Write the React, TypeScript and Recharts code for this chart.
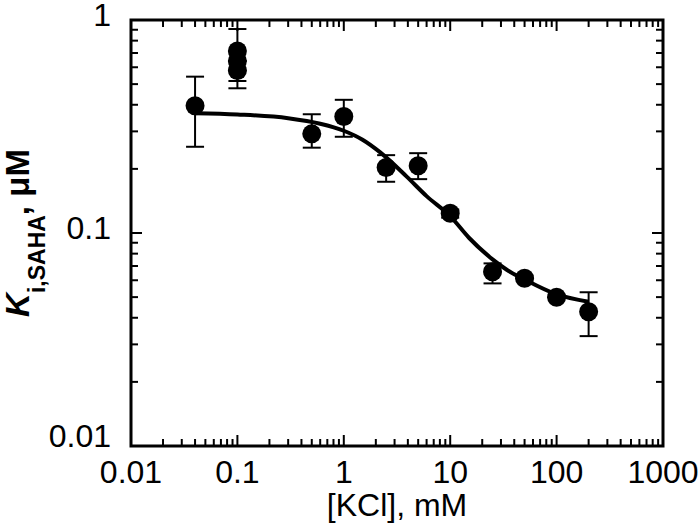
import { ComposedChart, Scatter, Line, XAxis, YAxis, ErrorBar, ReferenceArea } from 'recharts';

// measured KCl concentrations (mM) and Ki,SAHA (uM)
const kclConc = [0.04, 0.1, 0.1, 0.1, 0.5, 1, 2.5, 5, 10, 25, 50, 100, 200];
const kiSaha = [0.396, 0.715, 0.642, 0.579, 0.292, 0.352, 0.203, 0.207, 0.1237, 0.0658, 0.0613, 0.0499, 0.0427];
const kiLow = [0.254, 0.517, 0.642, 0.478, 0.2515, 0.283, 0.174, 0.179, 0.118, 0.058, 0.0613, 0.0499, 0.0328];
const kiHigh = [0.542, 0.907, 0.642, 0.579, 0.361, 0.422, 0.232, 0.237, 0.129, 0.072, 0.0613, 0.0499, 0.0527];

// fitted curve
const fitConc = [0.04, 0.1, 0.3, 0.6, 1, 1.5, 2.2, 3.9, 6, 10, 15, 25, 34, 50, 100, 200];
const fitKi = [0.365, 0.36, 0.346, 0.326, 0.302, 0.274, 0.239, 0.184, 0.149, 0.12, 0.095, 0.0752, 0.0672, 0.0605, 0.0515, 0.0476];

const xTicks = [
  0.01, 0.02, 0.03, 0.04, 0.05, 0.06, 0.07, 0.08, 0.09,
  0.1, 0.2, 0.3, 0.4, 0.5, 0.6, 0.7, 0.8, 0.9,
  1, 2, 3, 4, 5, 6, 7, 8, 9,
  10, 20, 30, 40, 50, 60, 70, 80, 90,
  100, 200, 300, 400, 500, 600, 700, 800, 900,
  1000,
];
const yTicks = [
  0.01, 0.02, 0.03, 0.04, 0.05, 0.06, 0.07, 0.08, 0.09,
  0.1, 0.2, 0.3, 0.4, 0.5, 0.6, 0.7, 0.8, 0.9,
  1,
];

const points = kclConc.map((x, i) => ({
  x,
  y: kiSaha[i],
  err: [kiSaha[i] - kiLow[i], kiHigh[i] - kiSaha[i]],
}));
const fit = fitConc.map((x, i) => ({ x, y: fitKi[i] }));

const W = 700;
const H = 524;
const TOP = 20;
const BOTTOM = 446;
const LEFT = 131;
const RIGHT = 663;
const FONT = 'Liberation Sans, Arial, Helvetica, sans-serif';

const isDecade = (v: number) => Math.abs(Math.log10(v) - Math.round(Math.log10(v))) < 1e-9;

function XTick(props: any) {
  const { x, payload } = props;
  const v = payload.value;
  const major = isDecade(v);
  const len = major ? 11 : 7;
  return (
    <g>
      <line x1={x} x2={x} y1={BOTTOM} y2={BOTTOM - len} stroke="#000" strokeWidth={2} />
      <line x1={x} x2={x} y1={TOP} y2={TOP + len} stroke="#000" strokeWidth={2} />
      {major && (
        <text x={x} y={483} textAnchor="middle" fontSize={32} fontFamily={FONT} fill="#000">
          {String(v)}
        </text>
      )}
    </g>
  );
}

function YTick(props: any) {
  const { y, payload } = props;
  const v = payload.value;
  const major = isDecade(v);
  const len = major ? 11 : 7;
  return (
    <g>
      <line x1={LEFT} x2={LEFT + len} y1={y} y2={y} stroke="#000" strokeWidth={2} />
      <line x1={RIGHT} x2={RIGHT - len} y1={y} y2={y} stroke="#000" strokeWidth={2} />
      {major && (
        <text x={111} y={v === 0.01 ? y + 1 : y + 6} textAnchor="end" fontSize={32} fontFamily={FONT} fill="#000">
          {String(v)}
        </text>
      )}
    </g>
  );
}

const Dot = (props: any) => <circle cx={props.cx} cy={props.cy} r={9.5} fill="#000" />;

const yLabel = () => (
  <text
    transform={`translate(29, ${(TOP + BOTTOM) / 2}) rotate(-90)`}
    textAnchor="middle"
    fontFamily={FONT}
    fontWeight="bold"
    fontSize={33}
    fill="#000"
  >
    <tspan fontStyle="italic">K</tspan>
    <tspan fontSize={23} dy={16}>i,SAHA</tspan>
    <tspan dy={-16}>, μM</tspan>
  </text>
);

const xLabel = () => (
  <text x={(LEFT + RIGHT) / 2} y={516} textAnchor="middle" fontFamily={FONT} fontSize={32} fill="#000">
    [KCl], mM
  </text>
);

export default function App() {
  return (
    <div style={{ position: 'absolute', left: 0, top: 0, background: '#fff' }}>
      <ComposedChart width={W} height={H} margin={{ top: TOP, right: W - RIGHT, bottom: 0, left: 0 }}>
        <XAxis
          dataKey="x"
          type="number"
          scale="log"
          domain={[0.01, 1000]}
          ticks={xTicks}
          interval={0}
          allowDataOverflow
          height={H - BOTTOM}
          axisLine={false}
          tickLine={false}
          tickSize={0}
          tickMargin={0}
          tick={(p: any) => <XTick {...p} />}
          label={xLabel}
        />
        <YAxis
          type="number"
          scale="log"
          domain={[0.01, 1]}
          ticks={yTicks}
          interval={0}
          allowDataOverflow
          width={LEFT}
          axisLine={false}
          tickLine={false}
          tickSize={0}
          tickMargin={0}
          tick={(p: any) => <YTick {...p} />}
          label={yLabel}
        />
        <ReferenceArea x1={0.01} x2={1000} y1={0.01} y2={1} fill="none" stroke="#000" strokeWidth={3} ifOverflow="visible" />
        <Line
          data={fit}
          dataKey="y"
          type="monotone"
          stroke="#000"
          strokeWidth={4}
          dot={false}
          isAnimationActive={false}
        />
        <Scatter data={points} dataKey="y" shape={Dot} isAnimationActive={false}>
          <ErrorBar dataKey="err" direction="y" width={9} stroke="#000" strokeWidth={2} isAnimationActive={false} />
        </Scatter>
      </ComposedChart>
    </div>
  );
}
